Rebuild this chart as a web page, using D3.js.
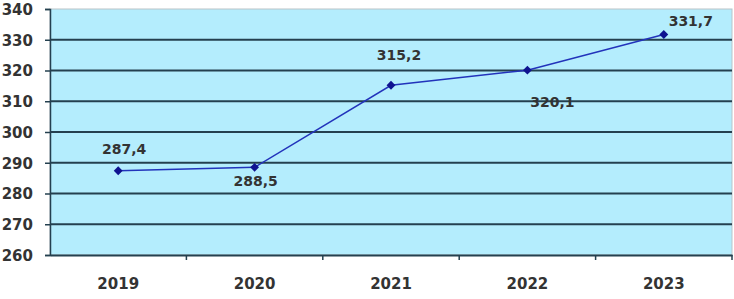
<!DOCTYPE html>
<html>
<head>
<meta charset="utf-8">
<script src="https://cdn.jsdelivr.net/npm/d3@7"></script>
<style>
  body { margin: 0; background: #fff; }
  svg { display: block; }
  text { font-family: "DejaVu Sans", Verdana, sans-serif; font-weight: bold; fill: #333; }
</style>
</head>
<body>
<div id="chart"></div>
<script>
// данные
const years = ["2019", "2020", "2021", "2022", "2023"];
const values = [287.4, 288.5, 315.2, 320.1, 331.7];
const yTicks = [260, 270, 280, 290, 300, 310, 320, 330, 340];

// размещение подписей (над / под точкой)
const labelOffsets = [[6, -22], [1, 14], [8, -30], [25, 32], [27, -14]];

const width = 734, height = 299;
const margin = {top: 9, right: 2, bottom: 44, left: 50};

const svg = d3.select("#chart").append("svg")
  .attr("width", width)
  .attr("height", height);

const x = d3.scaleBand()
  .domain(years)
  .range([margin.left, width - margin.right]);

const y = d3.scaleLinear()
  .domain([260, 340])
  .range([height - margin.bottom, margin.top]);

// фон области построения
svg.append("rect")
  .attr("x", margin.left)
  .attr("y", margin.top)
  .attr("width", width - margin.right - margin.left)
  .attr("height", y(260) - margin.top)
  .attr("fill", "#b4edfd")
  .attr("stroke", "#b9c3c8")
  .attr("stroke-width", 1);

// сетка
svg.append("g").selectAll("line")
  .data(yTicks.filter(d => d > 260 && d < 340))
  .enter().append("line")
  .attr("x1", margin.left)
  .attr("x2", width - margin.right)
  .attr("y1", d => y(d))
  .attr("y2", d => y(d))
  .attr("stroke", "#24404f")
  .attr("stroke-width", 1.8);

// ось Y
const yAxis = svg.append("g")
  .attr("transform", `translate(${margin.left},0)`)
  .call(d3.axisLeft(y).tickValues(yTicks).tickSize(5).tickPadding(12).tickFormat(d3.format("d")));
yAxis.selectAll("line").attr("stroke", "#24404f").attr("stroke-width", 1.5);
yAxis.select(".domain").attr("stroke", "#24404f").attr("stroke-width", 1.5);
yAxis.selectAll("text").style("font-size", "15px").attr("dy", "0.36em");

// ось X
const xAxis = svg.append("g")
  .attr("transform", `translate(0,${y(260)})`)
  .call(d3.axisBottom(x).tickSize(0).tickPadding(23));
xAxis.select(".domain").attr("stroke", "#24404f").attr("stroke-width", 2);
xAxis.selectAll("text").style("font-size", "15px");

// деления между категориями
svg.append("g").selectAll("line")
  .data(years.slice(1).concat(["end"]))
  .enter().append("line")
  .attr("x1", (d, i) => x(years[0]) + x.step() * (i + 1))
  .attr("x2", (d, i) => x(years[0]) + x.step() * (i + 1))
  .attr("y1", y(260))
  .attr("y2", y(260) + 5)
  .attr("stroke", "#24404f")
  .attr("stroke-width", 1.5);

const cx = d => x(d) + x.bandwidth() / 2;

// линия
svg.append("path")
  .datum(values)
  .attr("fill", "none")
  .attr("stroke", "#2233bb")
  .attr("stroke-width", 1.5)
  .attr("d", d3.line().x((d, i) => cx(years[i])).y(d => y(d)));

// маркеры
svg.append("g").selectAll("path")
  .data(values)
  .enter().append("path")
  .attr("transform", (d, i) => `translate(${cx(years[i])},${y(d)})`)
  .attr("d", d3.symbol(d3.symbolDiamond2, 50))
  .attr("fill", "#0f1390");

// подписи значений
svg.append("g").selectAll("text")
  .data(values)
  .enter().append("text")
  .attr("x", (d, i) => cx(years[i]) + labelOffsets[i][0])
  .attr("y", (d, i) => y(d) + labelOffsets[i][1])
  .attr("dy", "0.36em")
  .attr("text-anchor", "middle")
  .style("font-size", "14px")
  .text(d => d3.format(".1f")(d).replace(".", ","));
</script>
</body>
</html>
